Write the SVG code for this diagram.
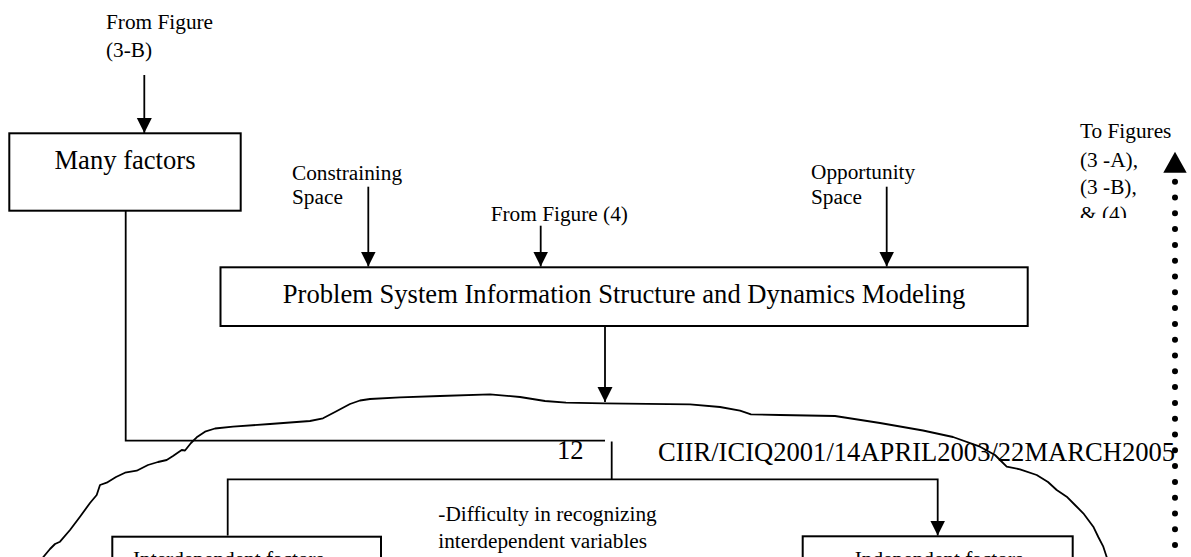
<svg xmlns="http://www.w3.org/2000/svg" width="1191" height="557" viewBox="0 0 1191 557">
  <style>
    .box { fill: #fff; stroke: #000; stroke-width: 2; }
    .ln { fill: none; stroke: #000; stroke-width: 1.8; }
    .t { font-family: "Liberation Serif", "Times New Roman", serif; fill: #000; }
    .big { font-size: 26.6px; }
    .sm { font-size: 21.3px; }
  </style>
  <defs>
    <marker id="arrow" markerUnits="userSpaceOnUse" markerWidth="16" markerHeight="16" refX="15" refY="7.5" orient="auto">
      <path d="M0,0 L15,7.5 L0,15 Z" fill="#000"/>
    </marker>
    <clipPath id="clipNote">
      <rect x="1070" y="100" width="110" height="118"/>
    </clipPath>
  </defs>
  <rect width="1191" height="557" fill="#fff"/>

  <!-- connectors -->
  <g id="connectors">
    <line class="ln" x1="144.3" y1="75" x2="144.3" y2="133" marker-end="url(#arrow)"/>
    <line class="ln" x1="368.3" y1="186.7" x2="368.3" y2="266.5" marker-end="url(#arrow)"/>
    <line class="ln" x1="540.7" y1="225.7" x2="540.7" y2="266.5" marker-end="url(#arrow)"/>
    <line class="ln" x1="886.7" y1="186.7" x2="886.7" y2="266.5" marker-end="url(#arrow)"/>
    <line class="ln" x1="605" y1="326" x2="605" y2="402" marker-end="url(#arrow)"/>
    <polyline class="ln" points="125.7,210.7 125.7,440.7 605,440.7"/>
    <line class="ln" x1="611.7" y1="441.5" x2="611.7" y2="479.3"/>
    <polyline class="ln" points="227.7,535.5 227.7,479.3 937.7,479.3 937.7,535.5" marker-start="url(#arrow)" marker-end="url(#arrow)"/>
    <!-- dotted return path -->
    <line x1="1175" y1="181.7" x2="1175" y2="560" stroke="#000" stroke-width="6" stroke-linecap="round" stroke-dasharray="0 15.8"/>
    <polygon points="1175,151.7 1186.7,172.7 1163.3,172.7" fill="#000"/>
  </g>

  <!-- hand-drawn boundary -->
  <g id="boundary">
    <path class="ln" stroke-linejoin="round" stroke-linecap="round" d="M43.3,557 L50,549 L55,544 L60,541.7 L70,530 L80,516.7 L90,503 L96.7,495 L100,485 L106.7,482.7 L116,477 L125,472.7 L136.7,470.7 L148,465 L158,462 L166.7,460 L173,456 L181.7,450 L185,450.5 L191,443 L196.7,437.3 L205,431.7 L215,428.5 L233,426.7 L270,424 L310,421 L323,418.3 L335,412 L350,404 L360,400.5 L370,399 L400,397.3 L440,396 L490,394.3 L520,397 L545,401 L566,402.7 L604,403.3 L690,404.3 L720,407 L740,410.7 L751,414.3 L780,415 L835,416 L880,423 L923,430.5 L953,437 L980,446.7 L995,455 L1000,460 L1006.7,466.7 L1020,469.3 L1036.7,475 L1048,482 L1056.7,490 L1066.7,496.7 L1075,505 L1083.3,513.3 L1093.3,526.7 L1098.3,537 L1103.3,546.7 L1106.7,557"/>
  </g>

  <!-- free labels -->
  <g id="label-from-3b">
    <text class="t sm" x="106" y="29.3">From Figure</text>
    <text class="t sm" x="106" y="56.7">(3-B)</text>
  </g>
  <g id="label-constraining">
    <text class="t sm" x="292" y="180">Constraining</text>
    <text class="t sm" x="292" y="204">Space</text>
  </g>
  <g id="label-from-4">
    <text class="t sm" x="490.7" y="220.7">From Figure (4)</text>
  </g>
  <g id="label-opportunity">
    <text class="t sm" x="811" y="179.3">Opportunity</text>
    <text class="t sm" x="811" y="204">Space</text>
  </g>
  <g id="label-to-figures" clip-path="url(#clipNote)">
    <text class="t sm" x="1080" y="138.3">To Figures</text>
    <text class="t sm" x="1080" y="167">(3 -A),</text>
    <text class="t sm" x="1080" y="194">(3 -B),</text>
    <text class="t sm" x="1080" y="221">&amp; (4)</text>
  </g>
  <g id="label-difficulty">
    <text class="t sm" x="438.3" y="520.7">-Difficulty in recognizing</text>
    <text class="t sm" x="438.3" y="548.3">interdependent variables</text>
  </g>
  <g id="page-header">
    <text class="t big" x="557" y="459">12</text>
    <text class="t big" x="658" y="461">CIIR/ICIQ2001/14APRIL2003/22MARCH2005</text>
  </g>

  <!-- nodes -->
  <g id="node-many-factors">
    <rect class="box" x="9.3" y="133.3" width="231.4" height="77.4"/>
    <text class="t big" x="125" y="169.3" text-anchor="middle">Many factors</text>
  </g>
  <g id="node-modeling">
    <rect class="box" x="220.5" y="267.3" width="807.2" height="58.7"/>
    <text class="t big" x="624" y="303.3" text-anchor="middle">Problem System Information Structure and Dynamics Modeling</text>
  </g>
  <g id="node-interdependent">
    <rect class="box" x="112.3" y="536.7" width="268.7" height="40"/>
    <text class="t sm" x="133" y="566">Interdependent factors</text>
  </g>
  <g id="node-independent">
    <rect class="box" x="802.7" y="536.3" width="270" height="40"/>
    <text class="t sm" x="939" y="566" text-anchor="middle">Independent factors</text>
  </g>
</svg>
